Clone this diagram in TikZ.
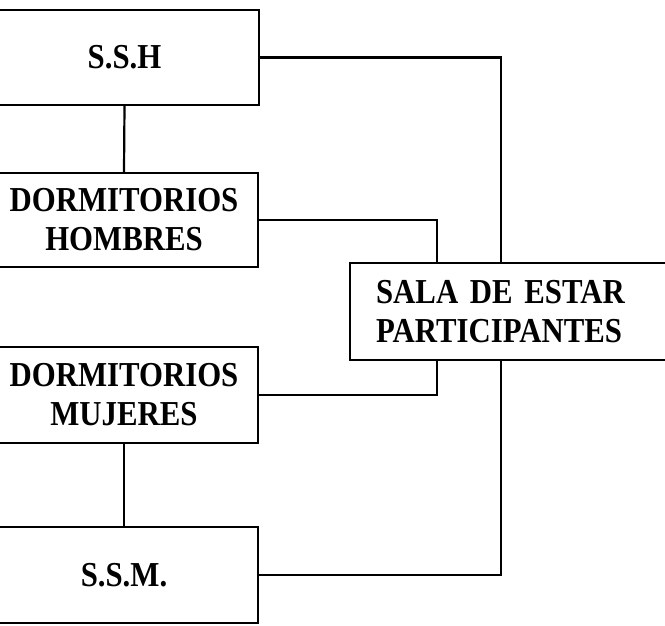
\documentclass[tikz,border=0pt]{standalone}
\usepackage{fontspec}
\setmainfont{Liberation Serif}[FakeStretch=0.88, WordSpace=0.6]
\begin{document}
\begin{tikzpicture}[x=1pt,y=-1pt,
  room/.style={draw, line width=2.2pt, rectangle, align=center, inner sep=0pt,
    font=\fontsize{35}{39}\selectfont\bfseries},
  link/.style={line width=2.2pt}]
\useasboundingbox (0,0) rectangle (665,625);
\clip (0,0) rectangle (665,625);
\node[room, minimum width=269, minimum height=95] (ssh) at (124.5,57.5) {S.S.H};
\node[room, minimum width=268, minimum height=94] (dh) at (124,220) {DORMITORIOS\\HOMBRES};
\node[room, minimum width=268, minimum height=96] (dm) at (124,395) {DORMITORIOS\\MUJERES};
\node[room, minimum width=268, minimum height=96] (ssm) at (124,575) {S.S.M.};
\node[room, text width=279, align=left, inner xsep=26, minimum height=97, anchor=west] (sala) at (349,311.5) {SALA DE ESTAR\\PARTICIPANTES};
\coordinate (bus) at (501,0);
\coordinate (tap) at (437,0);
\draw[link] (ssh.south) -- (dh.north);
\draw[link] (dm.south) -- (ssm.north);
\draw[link] (ssh.east) -| (bus |- sala.north);
\draw[link] (dh.east) -| (tap |- sala.north);
\draw[link] (dm.east) -| (tap |- sala.south);
\draw[link] (ssm.east) -| (bus |- sala.south);
\end{tikzpicture}
\end{document}
